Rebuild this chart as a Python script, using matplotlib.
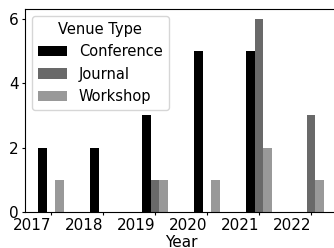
import matplotlib
matplotlib.use("Agg")
import matplotlib.pyplot as plt
import numpy as np

years = ["2017", "2018", "2019", "2020", "2021", "2022"]
conference = [2, 2, 3, 5, 5, 0]
journal = [0, 0, 1, 0, 6, 3]
workshop = [1, 0, 1, 1, 2, 1]
series_names = ["Conference", "Journal", "Workshop"]
colors = ["#000000", "#696969", "#999999"]

fig = plt.figure(figsize=(3.34, 2.48), dpi=100)
ax = fig.add_axes([25/334, 1-212/248, 312/334, 203/248])

x = np.arange(len(years))
w = 0.5 / 3
for i, (vals, name, c) in enumerate(zip([conference, journal, workshop], series_names, colors)):
    ax.bar(x + (i - 1) * w, vals, width=w, color=c, label=name)

ax.set_xlim(-0.5, len(years) - 0.5)
ax.set_ylim(0, 6.3)
ax.set_yticks([0, 2, 4, 6])
ax.set_xticks(x)
ax.set_xticklabels(years, rotation=0, ha="right", fontsize=11)
ax.tick_params(axis="x", length=2.5, pad=1.5)
ax.tick_params(axis="y", labelsize=11, length=2.5, pad=2)
ax.set_xlabel("Year", fontsize=11, labelpad=1.5)
ax.legend(title="Venue Type", loc="upper left", fontsize=10.5, title_fontsize=10.5)

fig.savefig("out.png", dpi=100)
